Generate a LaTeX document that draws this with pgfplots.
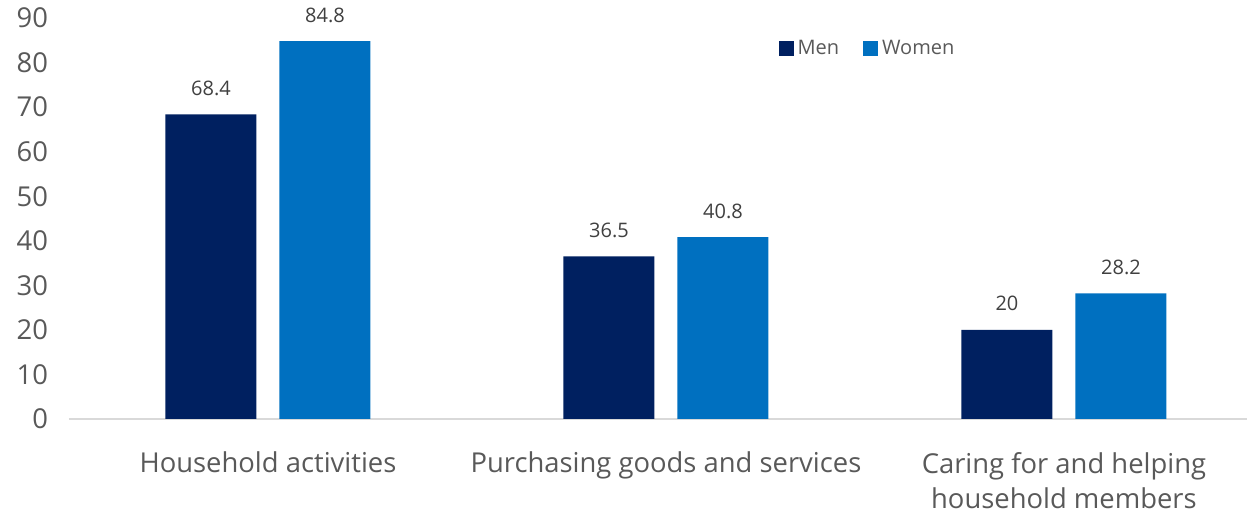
\documentclass[border=0pt]{standalone}
\usepackage{fontspec}
\setmainfont{Open Sans}
\usepackage{pgfplots}
\pgfplotsset{compat=1.18}
\definecolor{men}{HTML}{002060}
\definecolor{women}{HTML}{0070C0}
\definecolor{axgray}{HTML}{D9D9D9}
\definecolor{txtgray}{HTML}{595959}
\definecolor{lblgray}{HTML}{404040}
\begin{document}
\begin{tikzpicture}
\begin{axis}[
  at={(0,0)}, anchor=south west,
  scale only axis,
  width=589pt, height=200.5pt,
  xmin=-0.5, xmax=2.46,
  ymin=0, ymax=90,
  ytick={0,10,...,90},
  xtick={0,1,2},
  xticklabels={Household activities,Purchasing goods and services,{Caring for and helping\\household members}},
  xticklabel style={align=center, font=\fontsize{13.7}{17.5}\selectfont, text=txtgray, anchor=north, yshift=-13pt},
  yticklabel style={font=\fontsize{13.7}{16}\selectfont, text=txtgray, xshift=-7pt},
  /pgf/number format/assume math mode=true,
  major tick length=0pt,
  axis x line*=bottom,
  axis y line*=left,
  x axis line style={draw=axgray, line width=1pt, -},
  y axis line style={draw=none},
  ybar=11.5pt,
  bar width=45.5pt,
  nodes near coords,
  nodes near coords style={font=\fontsize{10}{12}\selectfont, text=lblgray, anchor=base, yshift=9.5pt},
  point meta=explicit symbolic,
  legend style={at={(0.602,0.923)}, anchor=west, draw=none, fill=none, inner sep=0pt,
    font=\fontsize{10}{12}\selectfont, text=txtgray, legend columns=-1,
    /tikz/every even column/.append style={column sep=10pt}},
  legend image code/.code={\fill[#1] (0pt,-3.75pt) rectangle (7.5pt,3.75pt);},
  clip=false,
]
\addplot[fill=men, draw=none] coordinates {(0,68.4) [68.4] (1,36.5) [36.5] (2,20) [20]};
\addplot[fill=women, draw=none] coordinates {(0,84.8) [84.8] (1,40.8) [40.8] (2,28.2) [28.2]};
\legend{Men,Women}
\end{axis}
\pgfresetboundingbox
\path[use as bounding box] (-34.5pt,-47pt) rectangle (589pt,209.5pt);
\end{tikzpicture}
\end{document}
